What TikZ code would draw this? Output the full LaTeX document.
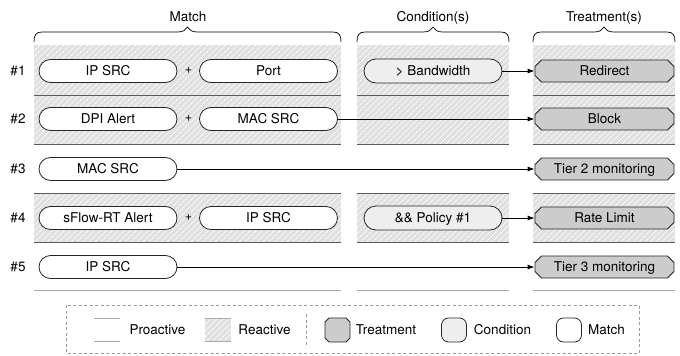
\documentclass[tikz,border=0pt]{standalone}
\usepackage{fontspec}
\setmainfont{TeX Gyre Heros}
\usetikzlibrary{shapes.misc,patterns.meta,arrows.meta}
\definecolor{hatchbg}{HTML}{E0E0E0}
\definecolor{treatfill}{HTML}{CCCCCC}
\definecolor{condfill}{HTML}{EEEEEE}
\definecolor{sepdark}{HTML}{5A5A5A}
\definecolor{seplight}{HTML}{AAAAAA}
\definecolor{legdash}{HTML}{999999}
\tikzset{
  lbl/.style={font=\fontsize{13.5}{16}\selectfont, text height=9.7pt, text depth=0pt, inner sep=0pt},
  matchbox/.style={lbl, rounded rectangle, draw=black!85, line width=0.8pt, fill=white, minimum width=138pt, minimum height=23pt},
  condbox/.style={matchbox, fill=condfill, minimum height=24pt},
  treatbox/.style={lbl, chamfered rectangle, chamfered rectangle xsep=3pt, draw=black!85, line width=0.8pt, fill=treatfill, minimum width=139pt, minimum height=22pt},
  arr/.style={-{Latex[length=7pt,width=5pt]}, line width=0.8pt},
  reactive/.style={fill=hatchbg, postaction={pattern={Lines[angle=45,distance=4pt,line width=0.7pt]}, pattern color=white}},
  darksep/.style={draw=sepdark, line width=1pt},
  lightsep/.style={draw=seplight, line width=1pt},
  cbr/.style={draw=black, line width=0.7pt},
  plus/.style={font=\fontsize{12.5}{14}\selectfont, inner sep=0pt},
  legdashed/.style={draw=legdash, line width=0.8pt, dash pattern=on 3pt off 2.5pt},
  legicon/.style={rectangle, rounded corners=7pt, draw=black!85, line width=0.8pt, minimum width=25pt, minimum height=24pt, inner sep=0pt},
}
\newcommand\mycbrace[2]{%
  \draw[cbr] (#1,42) .. controls (#1,35) and ({#1+2},32) .. ({#1+8},32)
    -- ({(#1+#2)/2-10},32) .. controls ({(#1+#2)/2-4},32) and ({(#1+#2)/2-2},30) .. ({(#1+#2)/2},27)
    .. controls ({(#1+#2)/2+2},30) and ({(#1+#2)/2+4},32) .. ({(#1+#2)/2+10},32)
    -- ({#2-8},32) .. controls ({#2-2},32) and (#2,35) .. (#2,42);}
\begin{document}
\begin{tikzpicture}[x=1pt,y=-1pt]
\useasboundingbox (0,0) rectangle (680,356);
% hatched (reactive) bands
\foreach \ya/\yb in {45/144, 193/242} {
  \fill[reactive] (34,\ya) rectangle (341,\yb);
  \fill[reactive] (357,\ya) rectangle (509,\yb);
  \fill[reactive] (533,\ya) rectangle (675,\yb);
}
% separator lines
\foreach \y in {95,144,193,242} {
  \draw[darksep] (34,\y) -- (341,\y);
  \draw[darksep] (357,\y) -- (509,\y);
  \draw[darksep] (533,\y) -- (675,\y);
}
\draw[lightsep] (34,290) -- (341,290);
\draw[lightsep] (357,290) -- (509,290);
\draw[lightsep] (533,290) -- (675,290);

% headers and braces
\node[lbl] (hmatch) at (188,17) {Match};
\node[lbl] (hcond) at (433,17) {Condition(s)};
\node[lbl] (htreat) at (604,17) {Treatment(s)};
\mycbrace{34}{341}
\mycbrace{357}{509}
\mycbrace{533}{675}

% row labels
\node[lbl] (r1) at (18,71) {\#1};
\node[lbl] (r2) at (18,119) {\#2};
\node[lbl] (r3) at (18,169) {\#3};
\node[lbl] (r4) at (18,218) {\#4};
\node[lbl] (r5) at (18,267) {\#5};

% row 1
\node[matchbox] (m1a) at (108,71) {IP SRC};
\node[plus] (p1) at (188.5,71) {+};
\node[matchbox] (m1b) at (268.5,71) {Port};
\node[condbox] (c1) at (433,71) {> Bandwidth};
\node[treatbox] (t1) at (604.5,71) {Redirect};
\draw[arr] (c1.east) -- (t1.west);

% row 2
\node[matchbox] (m2a) at (108,119) {DPI Alert};
\node[plus] (p2) at (188.5,119) {+};
\node[matchbox] (m2b) at (268.5,119) {MAC SRC};
\node[treatbox] (t2) at (604.5,119) {Block};
\draw[arr] (m2b.east) -- (t2.west);

% row 3
\node[matchbox] (m3a) at (108,169) {MAC SRC};
\node[treatbox] (t3) at (604.5,169) {Tier 2 monitoring};
\draw[arr] (m3a.east) -- (t3.west);

% row 4
\node[matchbox] (m4a) at (108,218) {sFlow-RT Alert};
\node[plus] (p4) at (188.5,218) {+};
\node[matchbox] (m4b) at (268.5,218) {IP SRC};
\node[condbox] (c4) at (433,218) {\&\& Policy \#1};
\node[treatbox] (t4) at (604.5,218) {Rate Limit};
\draw[arr] (c4.east) -- (t4.west);

% row 5
\node[matchbox] (m5a) at (108,267) {IP SRC};
\node[treatbox] (t5) at (604.5,267) {Tier 3 monitoring};
\draw[arr] (m5a.east) -- (t5.west);

% legend
\draw[legdashed] (66,305) rectangle (639,353);
\draw[legdashed] (306,314) -- (306,346);
\draw[lightsep] (94,318) -- (120,318);
\draw[lightsep] (94,341) -- (120,341);
\node[lbl] (lpro) at (157.5,330) {Proactive};
\fill[reactive] (205,318) rectangle (231,341);
\draw[lightsep] (205,318) -- (231,318);
\draw[lightsep] (205,341) -- (231,341);
\node[lbl] (lrea) at (264.5,330) {Reactive};
\node[lbl, chamfered rectangle, chamfered rectangle xsep=4pt, draw=black!85, line width=0.8pt, fill=treatfill, minimum width=25pt, minimum height=24pt] (ltreat) at (337.5,330) {};
\node[lbl] (ltreattxt) at (386,330) {Treatment};
\node[legicon, fill=condfill] (lcond) at (454,330) {};
\node[lbl] (lcondtxt) at (502.5,330) {Condition};
\node[legicon, fill=white] (lmatch) at (569,330) {};
\node[lbl] (lmatchtxt) at (606.5,330) {Match};
\end{tikzpicture}
\end{document}
